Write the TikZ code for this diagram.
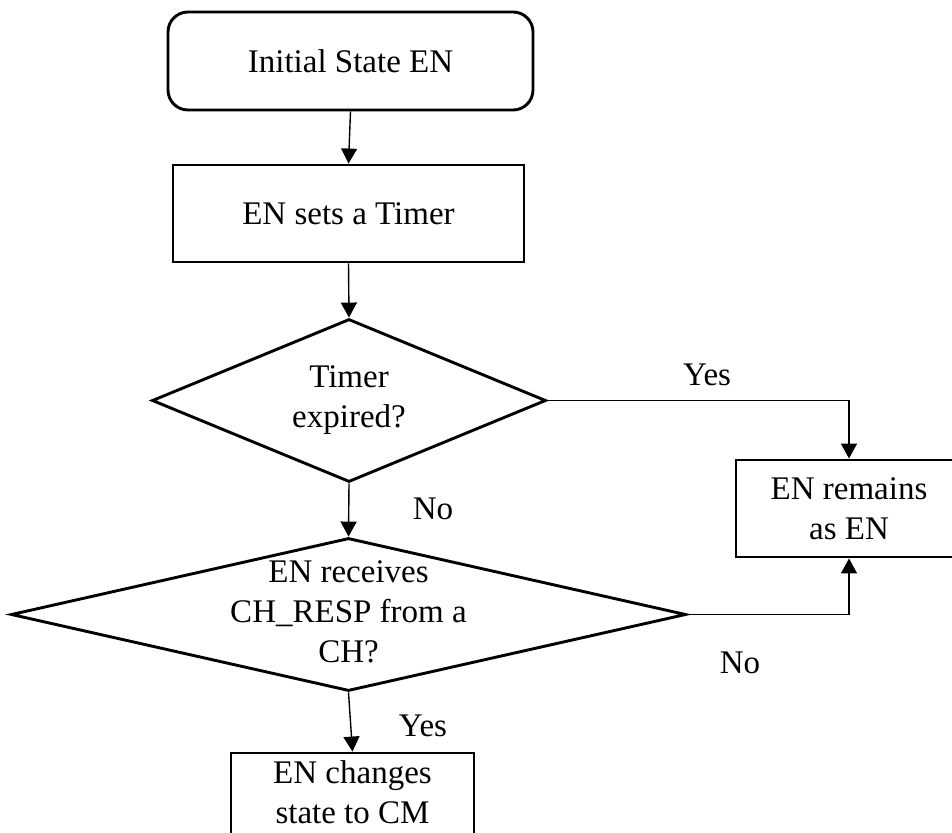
\documentclass[tikz,border=0pt]{standalone}
\usepackage{fontspec}
\setmainfont{Liberation Serif}
\usetikzlibrary{shapes.geometric,arrows.meta}
\begin{document}
\begin{tikzpicture}[x=1pt,y=-1pt,
  txt/.style={font=\fontsize{33pt}{40pt}\selectfont, align=center},
  box/.style={draw, line width=2.9pt, inner sep=0pt},
  decision/.style={draw, shape=diamond, line width=2.9pt, inner sep=0pt},
  arr/.style={line width=1.4pt, -{Triangle[length=15pt,width=16pt]}},
  lbl/.style={font=\fontsize{33pt}{40pt}\selectfont, anchor=base, inner sep=0pt}]
\useasboundingbox (0,0) rectangle (952,832);
\node[box, rounded corners=20pt, minimum width=365pt, minimum height=98pt] (init) at (350.5,61) {};
\node[txt] at (init) {Initial State EN};
\node[box, minimum width=351pt, minimum height=97pt] (setbox) at (348.5,213.5) {};
\node[txt] at (setbox) {EN sets a Timer};
\node[decision, minimum width=394pt, minimum height=163pt] (d1) at (349,400.5) {};
\node[txt] at (d1) {Timer\\expired?};
\node[decision, minimum width=675pt, minimum height=153pt] (d2) at (348.5,614.5) {};
\node[txt] at ([yshift=3pt]d2.center) {EN receives\\CH\_RESP from a\\CH?};
\node[box, minimum width=226pt, minimum height=97pt] (remain) at (849,508.5) {};
\node[txt] at (remain) {EN remains\\as EN};
\node[box, minimum width=243pt, minimum height=90pt] (change) at (352.5,798) {};
\node[txt] at ([yshift=6pt]change.center) {EN changes\\state to CM};
\draw[arr] (init.south) -- (setbox.north);
\draw[arr] (setbox.south) -- (d1.north);
\draw[arr] (d1.south) -- (d2.north);
\draw[arr] (d1.east) -| (remain.north);
\draw[arr] (d2.east) -| (remain.south);
\draw[arr] (d2.south) -- (change.north);
\node[lbl] (yes1) at (707,385) {Yes};
\node[lbl] (no1) at (433,519) {No};
\node[lbl] (no2) at (740,673) {No};
\node[lbl] (yes2) at (423,736) {Yes};
\end{tikzpicture}
\end{document}
